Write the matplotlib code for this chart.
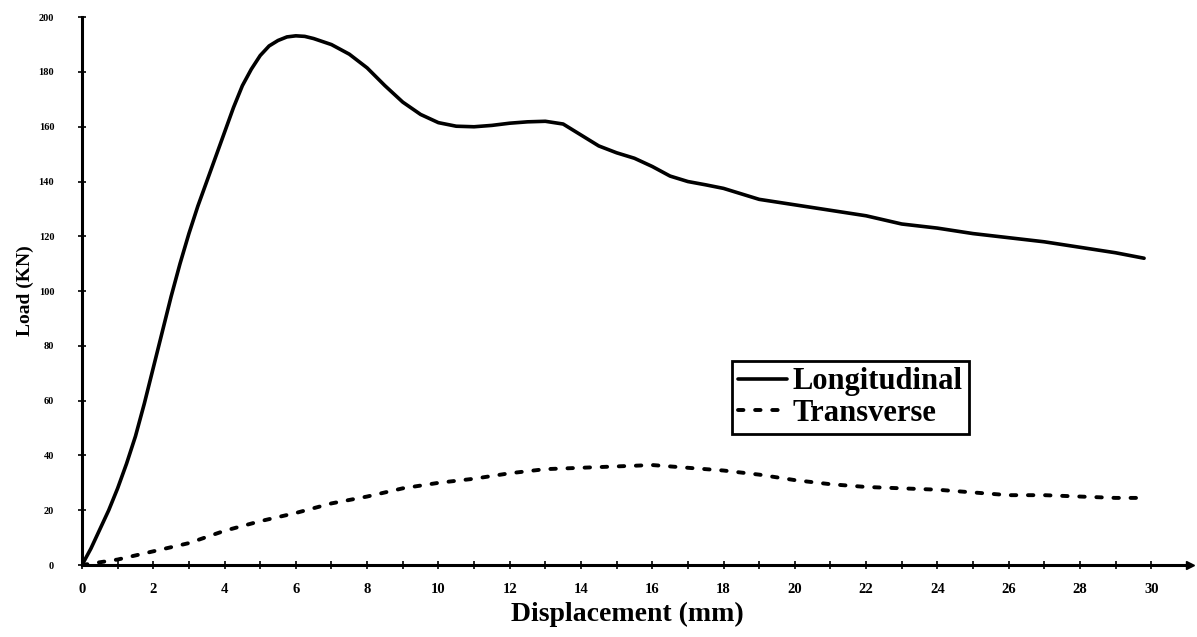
import matplotlib
matplotlib.use("Agg")
import matplotlib.pyplot as plt

# Longitudinal series (displacement mm, load kN)
long_x = [0, 0.25, 0.5, 0.75, 1, 1.25, 1.5, 1.75, 2, 2.25, 2.5, 2.75, 3, 3.25, 3.5, 3.75,
          4, 4.25, 4.5, 4.75, 5, 5.25, 5.5, 5.75, 6, 6.25, 6.5, 7, 7.5, 8, 8.5, 9, 9.5,
          10, 10.5, 11, 11.5, 12, 12.5, 13, 13.5, 14, 14.5, 15, 15.5, 16, 16.5, 17, 17.5,
          18, 18.5, 19, 19.5, 20, 21, 22, 22.5, 23, 24, 25, 26, 27, 28, 29, 29.8]
long_y = [0, 6, 13, 20, 28, 37, 47, 59, 72, 85, 98, 110, 121, 131, 140, 149,
          158, 167, 175, 181, 186, 189.5, 191.5, 192.8, 193.2, 193, 192.2, 190, 186.5, 181.5, 175, 169, 164.5,
          161.5, 160.2, 160, 160.5, 161.3, 161.8, 162, 161, 157, 153, 150.5, 148.5, 145.5, 142, 140, 138.8,
          137.5, 135.5, 133.5, 132.5, 131.5, 129.5, 127.5, 126, 124.5, 123, 121, 119.5, 118, 116, 114, 112]

# Transverse series
trans_x = [0, 1, 2, 3, 4, 5, 6, 7, 8, 9, 10, 11, 12, 13, 14, 15, 16, 17, 18, 19, 20,
           21, 22, 23, 24, 25, 26, 27, 28, 29, 29.8]
trans_y = [0, 2, 5, 8, 12.5, 16, 19, 22.5, 25, 28, 30, 31.5, 33.5, 35, 35.5, 36, 36.5, 35.5, 34.5, 33, 31,
           29.5, 28.5, 28, 27.5, 26.5, 25.5, 25.5, 25, 24.5, 24.5]

x_ticks = list(range(0, 31, 2))
y_ticks = list(range(0, 201, 20))

plt.rcParams['font.family'] = ['Liberation Serif', 'DejaVu Serif']

fig = plt.figure(figsize=(11.97, 6.37), dpi=100)
ax = fig.add_axes([0.0685, 0.113, 0.926, 0.860])

ax.plot(long_x, long_y, color='black', lw=2.6, solid_capstyle='round',
        solid_joinstyle='round', label='Longitudinal')
ax.plot(trans_x, trans_y, color='black', lw=2.8, linestyle=(0, (1.4, 3.0)),
        dash_capstyle='round', label='Transverse')

ax.set_xlim(0, 31.1)
ax.set_ylim(0, 200)
ax.set_xticks(x_ticks)
ax.set_xticks(range(0, 31, 1), minor=True)
ax.set_yticks(y_ticks)
ax.set_xticklabels([str(v) for v in x_ticks], fontsize=10.5, fontweight='bold')
ax.set_yticklabels([str(v) for v in y_ticks], fontsize=7.5, fontweight='bold')
ax.tick_params(axis='both', which='both', direction='inout', length=6, width=1.2, colors='black')
ax.tick_params(axis='x', which='major', pad=10)
ax.tick_params(axis='y', which='major', pad=17)

for s in ['top', 'right']:
    ax.spines[s].set_visible(False)
for s in ['left', 'bottom']:
    ax.spines[s].set_linewidth(2.2)
    ax.spines[s].set_color('black')

ax.plot([1], [0], marker='>', color='black', markersize=6, transform=ax.transAxes, clip_on=False)

ax.set_xlabel('Displacement (mm)', fontsize=20, fontweight='bold')
ax.xaxis.set_label_coords(0.492, -0.068)
ax.set_ylabel('Load (KN)', fontsize=14, fontweight='bold')
ax.yaxis.set_label_coords(-0.043, 0.5)

leg = ax.legend(loc='upper left', bbox_to_anchor=(0.586, 0.372), frameon=True, fancybox=False,
                edgecolor='black', framealpha=1, fontsize=22, handlelength=1.6, handletextpad=0.2,
                borderpad=0.2, labelspacing=0.08, borderaxespad=0)
leg.get_frame().set_linewidth(2)
for t in leg.get_texts():
    t.set_fontweight('bold')

fig.savefig('out.png', dpi=100)
